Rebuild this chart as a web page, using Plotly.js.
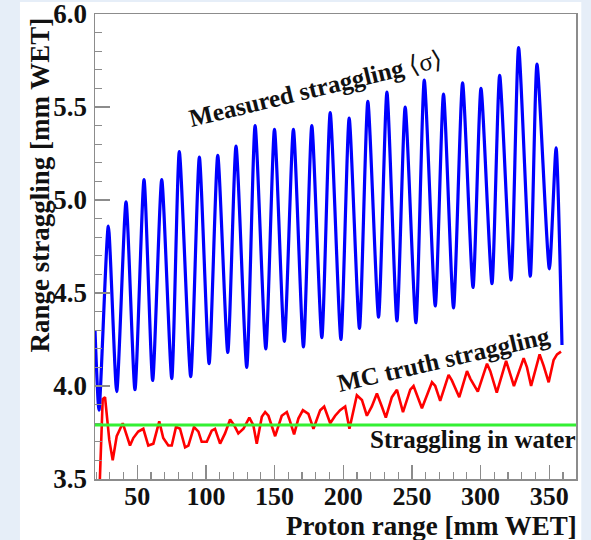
<!DOCTYPE html>
<html>
<head>
<meta charset="utf-8">
<script src="https://cdn.plot.ly/plotly-3.0.1.min.js"></script>
<style>
  html, body { margin: 0; padding: 0; background: #e6eef8; }
  #chart { width: 591px; height: 540px; }
</style>
</head>
<body>
<div id="chart"></div>
<script>
// Measured range straggling <sigma> versus proton range (mm WET)
const measuredRange = [19.2, 22.1, 28.9, 35.0, 41.8, 48.3, 54.9, 61.2, 67.8, 75.1,
  80.6, 88.9, 95.2, 102.3, 108.6, 115.9, 121.9, 129.7, 135.8, 143.6,
  149.9, 157.1, 163.7, 171.0, 177.1, 184.4, 190.5, 198.3, 204.3, 211.8,
  217.9, 225.7, 231.8, 239.1, 245.1, 252.9, 259.0, 267.0, 273.0, 280.3,
  286.9, 294.5, 300.3, 308.3, 313.9, 322.2, 327.7, 336.2, 341.1, 350.1,
  355.0, 359.3];
const measuredSigma = [4.30, 3.87, 4.86, 3.97, 4.99, 3.98, 5.11, 4.03, 5.11, 4.04,
  5.26, 4.05, 5.23, 4.12, 5.24, 4.18, 5.29, 4.10, 5.40, 4.20,
  5.38, 4.24, 5.38, 4.21, 5.40, 4.26, 5.47, 4.25, 5.44, 4.31,
  5.53, 4.37, 5.58, 4.35, 5.50, 4.34, 5.645, 4.43, 5.57, 4.42,
  5.63, 4.53, 5.60, 4.55, 5.67, 4.57, 5.82, 4.59, 5.73, 4.63,
  5.28, 4.22];

// Monte Carlo truth straggling
const mcRange = [21.8, 22.8, 24.8, 26.5, 27.7, 29.6, 32.1, 35.0, 39.4, 42.3,
  44.7, 47.1, 50.7, 54.4, 58.0, 61.7, 66.0, 68.9, 72.6, 75.1,
  78.2, 81.1, 84.8, 87.2, 91.3, 94.5, 96.9, 100.6, 104.2, 106.6,
  110.3, 113.9, 117.6, 120.5, 123.6, 127.3, 131.6, 134.5, 137.0, 140.7,
  143.1, 145.5, 150.4, 155.2, 158.9, 160.8, 164.2, 167.3, 170.6, 174.6,
  178.3, 183.2, 186.1, 190.5, 194.1, 197.7, 201.4, 204.5, 209.9, 213.6,
  217.2, 220.8, 224.5, 228.1, 231.0, 235.4, 239.1, 243.5, 248.8, 251.2,
  257.3, 264.6, 267.0, 270.6, 276.7, 279.1, 284.5, 290.1, 292.5, 298.0,
  304.7, 307.1, 311.8, 318.6, 320.5, 324.3, 331.4, 333.8, 336.8, 343.0,
  345.9, 349.6, 353.2, 355.7, 358.6];
const mcSigma = [3.30, 3.49, 3.93, 3.94, 3.835, 3.71, 3.60, 3.73, 3.80, 3.73,
  3.68, 3.72, 3.755, 3.77, 3.68, 3.69, 3.81, 3.72, 3.68, 3.68,
  3.78, 3.77, 3.67, 3.68, 3.78, 3.755, 3.70, 3.70, 3.76, 3.77,
  3.69, 3.745, 3.82, 3.79, 3.745, 3.77, 3.83, 3.79, 3.69, 3.835,
  3.86, 3.84, 3.73, 3.84, 3.86, 3.82, 3.74, 3.825, 3.87, 3.85,
  3.77, 3.87, 3.89, 3.80, 3.84, 3.87, 3.89, 3.77, 3.95, 3.925,
  3.84, 3.89, 3.96, 3.89, 3.83, 3.94, 3.98, 3.86, 3.98, 4.00,
  3.88, 4.02, 4.00, 3.92, 4.06, 4.03, 3.94, 4.08, 4.04, 3.97,
  4.12, 4.08, 3.965, 4.135, 4.09, 4.00, 4.15, 4.10, 4.00, 4.17,
  4.11, 4.02, 4.14, 4.17, 4.185];

// Straggling in water (constant reference level)
const waterStraggling = 3.79;

// Axis settings
const xRange = [19.2, 369.5];
const yRange = [3.5, 6.0];
const xTickValues = [50, 100, 150, 200, 250, 300, 350];
const yTickValues = [3.5, 4.0, 4.5, 5.0, 5.5, 6.0];
const yTickLabels = ['3.5', '4.0', '4.5', '5.0', '5.5', '6.0'];

const serif = 'Liberation Serif, Times New Roman, serif';
const axisGrey = '#8c8c8c';

const traces = [
  {
    x: mcRange, y: mcSigma, type: 'scatter', mode: 'lines',
    line: { color: '#ff0000', width: 2.6 },
    hoverinfo: 'skip'
  },
  {
    x: measuredRange, y: measuredSigma, type: 'scatter', mode: 'lines',
    line: { color: '#0000ff', width: 3.2, shape: 'spline', smoothing: 0.6 },
    hoverinfo: 'skip'
  }
];

const axisCommon = {
  showgrid: false, zeroline: false,
  showline: true, linecolor: axisGrey, linewidth: 1.5, mirror: true,
  ticks: 'inside', tickcolor: axisGrey, tickwidth: 1.3,
  ticklabeloverflow: 'allow',
  tickfont: { family: serif, size: 27, color: '#111', weight: 'bold' }
};

const layout = {
  width: 591, height: 540,
  paper_bgcolor: '#e6eef8',
  plot_bgcolor: '#ffffff',
  margin: { l: 95, r: 15, t: 14, b: 61 },
  showlegend: false,
  xaxis: Object.assign({}, axisCommon, {
    range: xRange, tickmode: 'array', tickvals: xTickValues,
    ticklen: 14,
    minor: { dtick: 10, tick0: 0, ticks: 'inside', ticklen: 7, tickcolor: axisGrey, tickwidth: 1.2 },
    ticklabelstandoff: -7,
    tickfont: { family: serif, size: 26, color: '#111', weight: 'bold' }
  }),
  yaxis: Object.assign({}, axisCommon, {
    range: yRange, tickmode: 'array', tickvals: yTickValues, ticktext: yTickLabels,
    ticklen: 15,
    minor: { dtick: 0.1, tick0: 3.5, ticks: 'inside', ticklen: 7, tickcolor: axisGrey, tickwidth: 1.2 },
    ticklabelstandoff: 1
  }),
  shapes: [
    // white page panel behind the frame
    { type: 'rect', xref: 'paper', yref: 'paper', layer: 'below',
      x0: -0.156, x1: 1.011, y0: -0.2, y1: 1.026,
      fillcolor: '#ffffff', line: { width: 0 } },
    // water straggling level
    { type: 'line', xref: 'paper', yref: 'y', x0: 0, x1: 1,
      y0: waterStraggling, y1: waterStraggling,
      line: { color: '#33f033', width: 3 } }
  ],
  annotations: [
    { xref: 'paper', yref: 'paper', x: -0.1144, y: 0.998,
      xanchor: 'center', yanchor: 'top', textangle: -90, showarrow: false,
      text: 'Range straggling [mm WET]',
      font: { family: serif, size: 27, color: '#111', weight: 'bold' } },
    { xref: 'paper', yref: 'paper', x: 1.006, y: -0.1,
      xanchor: 'right', yanchor: 'middle', showarrow: false,
      text: 'Proton range [mm WET]',
      font: { family: serif, size: 27, color: '#111', weight: 'bold' } },
    { xref: 'x', yref: 'y', x: 179.5, y: 5.6, textangle: -13.5, showarrow: false,
      text: '<b>Measured straggling</b> \u27E8\u03C3\u27E9',
      font: { family: serif, size: 25, color: '#111' } },
    { xref: 'x', yref: 'y', x: 272.8, y: 4.145, textangle: -13, showarrow: false,
      text: 'MC truth straggling',
      font: { family: serif, size: 25, color: '#111', weight: 'bold' } },
    { xref: 'x', yref: 'y', x: 294.7, y: 3.71, showarrow: false,
      text: 'Straggling in water',
      font: { family: serif, size: 25, color: '#111', weight: 'bold' } }
  ]
};

Plotly.newPlot('chart', traces, layout, { staticPlot: true, displayModeBar: false });
</script>
</body>
</html>
